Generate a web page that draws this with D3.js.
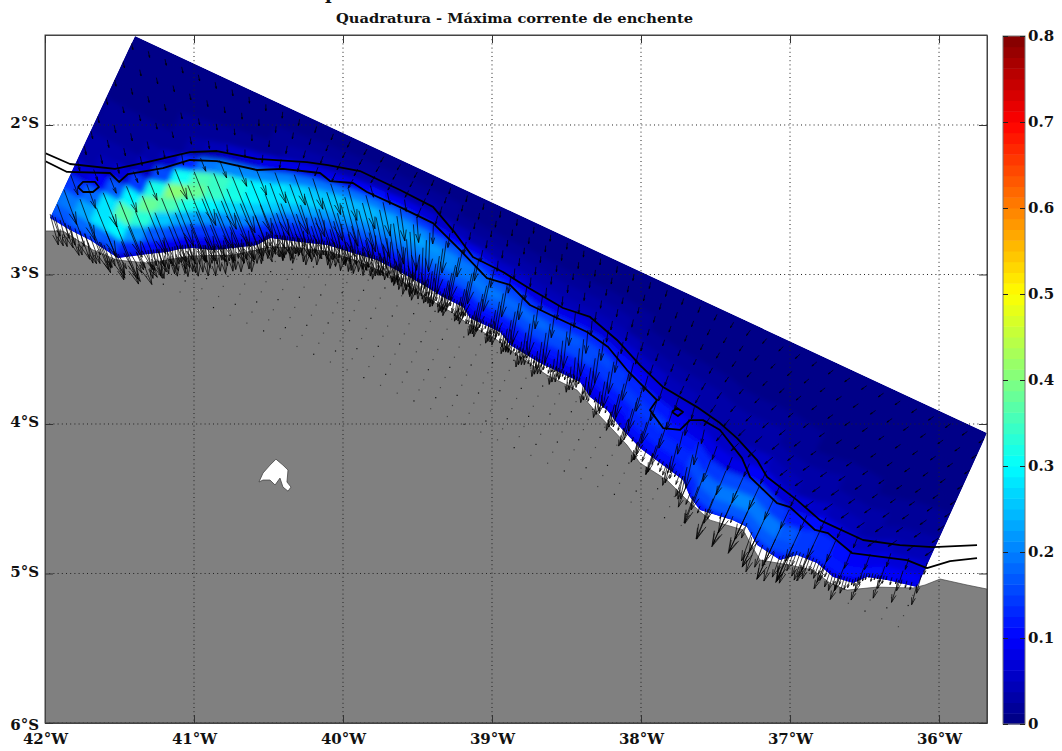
<!DOCTYPE html>
<html>
<head>
<meta charset="utf-8">
<script src="https://cdn.jsdelivr.net/npm/d3@7"></script>
<style>
  body { margin: 0; background: #fff; }
  text { font-family: "DejaVu Serif", serif; font-weight: bold; fill: #111; }
</style>
</head>
<body>
<div id="chart"></div>
<script>
// ticks
var lonTicks = [-42, -41, -40, -39, -38, -37, -36];
var latTicks = [-2, -3, -4, -5, -6];
var barTicks = [0, 0.1, 0.2, 0.3, 0.4, 0.5, 0.6, 0.7, 0.8];
var jetStops = ["#000080", "#0000ff", "#0080ff", "#00ffff", "#80ff80", "#ffff00", "#ff8000", "#ff0000", "#800000"];

// model grid: rotated box, offshore edge from NW corner to NE corner, cross direction to SW corner
var cornerNW = [-41.396, -1.405];
var cornerNE = [-35.678, -4.060];
var cornerSW = [-41.966, -2.635];

// wet edge of the grid, west to east (lon, lat)
var seaEdge = [[-41.966,-2.622],[-41.832,-2.702],[-41.698,-2.769],[-41.510,-2.890],[-41.309,-2.863],[-41.181,-2.850],[-41.094,-2.830],[-41.007,-2.823],[-40.872,-2.836],[-40.738,-2.823],[-40.577,-2.803],[-40.490,-2.756],[-40.389,-2.769],[-40.289,-2.783],[-40.107,-2.803],[-39.933,-2.856],[-39.772,-2.903],[-39.617,-2.983],[-39.483,-3.057],[-39.329,-3.151],[-39.195,-3.218],[-39.148,-3.291],[-38.946,-3.385],[-38.879,-3.472],[-38.678,-3.592],[-38.409,-3.719],[-38.342,-3.820],[-38.228,-3.907],[-38.141,-4.020],[-38.007,-4.161],[-37.872,-4.261],[-37.718,-4.375],[-37.671,-4.489],[-37.604,-4.576],[-37.383,-4.643],[-37.289,-4.689],[-37.221,-4.810],[-37.067,-4.910],[-36.953,-4.877],[-36.819,-4.930],[-36.711,-5.024],[-36.577,-5.064],[-36.483,-5.024],[-36.349,-5.044],[-36.148,-5.091]];
// short crowded arrows along that edge: length (px), degrees west of south, spacing (px) at each edge point
var barbLength = [32,32,34,34,30,30,32,32,30,30,26,24,26,26,26,24,20,24,18,16,14,14,14,12,10,10,10,14,8,24,12,24,12,12,8,32,34,32,28,18,18,10,8,8,6];
var barbAngle = [-15,-15,-20,-30,-10,-5,-5,-5,-5,0,0,0,5,5,5,5,5,10,10,10,10,10,10,10,15,15,15,15,15,20,20,20,20,20,20,20,20,20,20,20,15,15,15,15,15];
var barbGap = [6,6,6,6,2.6,2.6,2.6,2.6,2.6,2.6,2.6,2.6,2.6,2.6,2.6,2.6,2.6,2.6,3,3,3,3,3,3,3,8,8,8,10,10,4,12,12,12,14,9,7,3.5,3.5,3.5,3,3,3,5,5];
var barbCycle = [1, 0.62, 0.86, 0.5, 0.96, 0.7, 0.55, 0.9];

// land coast (lon, lat)
var landCoast = [[-42,-2.709],[-41.879,-2.709],[-41.678,-2.836],[-41.517,-2.903],[-41.315,-2.923],[-41.007,-2.876],[-40.738,-2.870],[-40.490,-2.816],[-40.289,-2.823],[-40.087,-2.850],[-39.886,-2.917],[-39.617,-3.037],[-39.436,-3.157],[-39.262,-3.258],[-39.168,-3.325],[-38.966,-3.438],[-38.832,-3.539],[-38.631,-3.673],[-38.430,-3.773],[-38.295,-3.927],[-38.188,-4.040],[-38.094,-4.141],[-38.007,-4.261],[-37.826,-4.375],[-37.691,-4.509],[-37.537,-4.643],[-37.315,-4.709],[-37.268,-4.796],[-37.201,-4.910],[-37.000,-4.944],[-36.846,-4.977],[-36.732,-5.064],[-36.617,-5.111],[-36.416,-5.091],[-36.174,-5.097],[-36.094,-5.077],[-35.993,-5.037],[-35.812,-5.077],[-35.678,-5.104]];
var island = [[-40.564,-4.388],[-40.537,-4.328],[-40.490,-4.275],[-40.450,-4.235],[-40.403,-4.275],[-40.369,-4.308],[-40.376,-4.388],[-40.349,-4.422],[-40.369,-4.449],[-40.403,-4.422],[-40.423,-4.362],[-40.456,-4.408],[-40.490,-4.375],[-40.537,-4.375]];

// the two black contours and their small closed loops
var contourUpper = [[-42,-2.187],[-41.832,-2.261],[-41.530,-2.294],[-41.315,-2.248],[-41.027,-2.181],[-40.846,-2.174],[-40.577,-2.227],[-40.242,-2.248],[-40.101,-2.268],[-39.886,-2.308],[-39.617,-2.435],[-39.396,-2.548],[-39.248,-2.722],[-39.128,-2.883],[-38.926,-2.983],[-38.765,-3.084],[-38.523,-3.224],[-38.342,-3.284],[-38.161,-3.438],[-38.007,-3.606],[-37.852,-3.753],[-37.624,-3.887],[-37.470,-3.994],[-37.356,-4.094],[-37.221,-4.241],[-37.154,-4.355],[-36.953,-4.509],[-36.799,-4.643],[-36.510,-4.776],[-36.262,-4.810],[-36.040,-4.823],[-35.745,-4.810]];
var contourLower = [[-42,-2.241],[-41.852,-2.314],[-41.564,-2.321],[-41.503,-2.381],[-41.443,-2.328],[-41.208,-2.288],[-41.027,-2.234],[-40.846,-2.241],[-40.577,-2.301],[-40.403,-2.294],[-40.154,-2.321],[-40.087,-2.375],[-39.933,-2.388],[-39.839,-2.448],[-39.617,-2.549],[-39.396,-2.656],[-39.215,-2.836],[-39.034,-3.024],[-38.879,-3.070],[-38.745,-3.204],[-38.564,-3.291],[-38.362,-3.385],[-38.221,-3.485],[-38.094,-3.639],[-37.893,-3.840],[-37.940,-3.907],[-37.852,-4.027],[-37.738,-4.040],[-37.671,-3.974],[-37.584,-3.974],[-37.470,-4.040],[-37.322,-4.228],[-37.268,-4.355],[-37.087,-4.529],[-37.000,-4.556],[-36.832,-4.709],[-36.745,-4.730],[-36.584,-4.863],[-36.215,-4.910],[-36.081,-4.964],[-35.926,-4.917],[-35.745,-4.897]];
var loopWest = [[-41.779,-2.415],[-41.745,-2.381],[-41.664,-2.381],[-41.638,-2.415],[-41.678,-2.448],[-41.745,-2.448],[-41.779,-2.415]];
var loopEast = [[-37.792,-3.920],[-37.758,-3.893],[-37.718,-3.920],[-37.752,-3.947],[-37.792,-3.920]];

// fraction of the way from the offshore edge to the wet edge for each speed column
var depthLevels = [0.04, 0.14, 0.24, 0.34, 0.44, 0.52, 0.60, 0.68, 0.76, 0.84, 0.92, 0.98, 1.06];
// cross positions of the dry grid points that show as specks on land
var landLevels = [0.44, 0.495, 0.55, 0.605, 0.66, 0.715, 0.77, 0.825, 0.88, 0.935, 0.99, 1.05];

// current speed in cm/s, one row per grid station west to east
var speedCm = [
  [1,1,1,1,1,2,3,4,9,16,20,14,8],
  [1,1,1,1,2,2,3,5,11,19,22,14,8],
  [1,1,1,1,2,2,4,7,16,26,24,14,8],
  [1,1,1,1,2,3,5,12,32,38,24,12,7],
  [1,1,1,1,2,3,9,34,42,34,20,10,6],
  [1,1,1,2,4,14,38,44,34,22,13,8,5],
  [1,1,1,2,6,30,42,38,28,20,12,7,5],
  [1,1,1,2,8,32,38,34,26,18,11,7,5],
  [1,1,1,2,10,32,34,31,25,17,11,7,5],
  [1,1,1,2,12,30,32,29,24,17,11,7,5],
  [1,1,2,3,14,28,30,28,23,16,10,7,5],
  [1,1,2,3,14,26,29,27,22,16,10,7,5],
  [1,1,2,3,14,25,28,26,21,15,10,7,5],
  [1,1,2,3,14,24,27,25,20,15,10,7,5],
  [1,1,2,4,14,24,26,24,20,15,10,7,5],
  [1,1,2,5,15,24,25,24,19,14,10,7,5],
  [1,1,2,5,15,23,25,23,19,14,10,7,5],
  [1,1,2,5,14,22,24,23,19,14,10,7,6],
  [1,1,2,4,11,20,23,23,19,14,10,7,6],
  [1,1,2,3,8,17,22,22,19,14,10,8,6],
  [1,1,1,3,6,14,20,22,19,14,10,8,6],
  [1,1,1,2,5,12,19,21,19,14,10,8,6],
  [1,1,1,2,5,10,17,20,19,14,10,8,6],
  [1,1,1,2,4,8,15,20,19,14,10,8,6],
  [1,1,1,2,4,7,14,19,19,14,10,8,6],
  [1,1,1,2,3,6,11,18,18,14,10,8,6],
  [1,1,1,2,3,6,10,18,18,14,10,8,6],
  [1,1,1,2,3,6,10,17,18,14,10,8,6],
  [1,1,1,2,3,6,10,16,17,14,10,8,6],
  [1,1,1,2,3,6,10,16,17,14,10,8,6],
  [1,1,1,2,3,5,9,15,16,14,10,8,6],
  [1,1,1,2,3,5,9,14,16,14,10,8,6],
  [1,1,1,1,3,5,8,12,15,14,10,8,6],
  [1,1,1,1,2,4,7,11,15,14,11,8,6],
  [1,1,1,1,2,4,6,10,15,15,12,9,7],
  [1,1,1,1,2,3,5,9,12,14,12,9,7],
  [1,1,1,1,2,3,5,7,10,13,12,9,7],
  [1,1,1,1,2,3,4,6,10,15,14,10,8],
  [1,1,1,1,2,3,4,6,10,17,17,12,8],
  [1,1,1,1,2,3,4,6,11,18,19,14,9],
  [1,1,1,1,2,3,4,6,12,20,20,14,9],
  [1,1,1,1,2,3,4,6,12,20,20,14,9],
  [1,1,1,1,2,2,3,5,10,19,19,14,9],
  [1,1,1,1,1,2,3,5,9,18,19,14,9],
  [1,1,1,1,1,2,3,4,7,15,17,13,9],
  [1,1,1,1,1,2,3,4,6,13,15,12,8],
  [1,1,1,1,1,2,2,3,5,10,13,11,8],
  [1,1,1,1,1,1,2,3,5,8,12,11,8],
  [1,1,1,1,1,1,2,3,4,7,11,10,8],
  [1,1,1,1,1,1,2,2,4,6,10,10,8],
  [1,1,1,1,1,1,2,2,3,5,9,10,8],
  [1,1,1,1,1,1,2,2,3,5,8,9,7]
];
// direction of the current per station, degrees west of south
var angleInner = [-20,-20,-22,-22,-22,-22,-22,-22,-22,-22,-20,-20,-18,-18,-15,-15,-12,-8,-4,2,8,12,12,12,10,10,8,8,6,5,8,10,14,16,18,18,14,12,20,22,24,25,25,25,25,25,24,22,20,18,18,15];
var angleOuter = [-12,-12,-12,-12,-12,-10,-8,-4,0,5,10,15,20,25,28,30,30,28,22,15,12,10,8,6,5,5,5,5,6,8,10,12,15,18,20,25,30,35,40,45,48,50,52,55,55,55,55,55,55,55,55,55];

var width = 1062, height = 751;
var left = 45, right = 987, top_ = 35, bottom = 723;

var x = d3.scaleLinear().domain([-42, -35.678]).range([left, right]);
var y = d3.scaleLinear().domain([-1.398, -6]).range([top_, bottom]);
var xy = function(d) { return [x(d[0]), y(d[1])]; };

var jet = d3.scaleLinear().domain(barTicks).range(jetStops);
var speedColor = d3.scaleQuantize().domain([0, 0.8]).range(d3.range(64).map(function(i) { return jet((i + 0.5) / 64 * 0.8); }));

var svg = d3.select("#chart").append("svg").attr("width", width).attr("height", height);

// clipped first line of the title, only the descender lands on the page
svg.append("text").attr("x", 325).attr("y", -1).attr("font-size", 18).text("p");
svg.append("text").attr("x", 336).attr("y", 23).attr("font-size", 13.5).attr("textLength", 357).attr("lengthAdjust", "spacingAndGlyphs").text("Quadratura - Máxima corrente de enchente");

var defs = svg.append("defs");
defs.append("clipPath").attr("id", "plotClip").append("rect")
  .attr("x", left).attr("y", top_).attr("width", right - left).attr("height", bottom - top_);

var nw = xy(cornerNW), ne = xy(cornerNE), sw = xy(cornerSW);
var seaPts = seaEdge.map(xy);
var seaPoly = [nw, ne].concat(seaPts.slice().reverse());

function boxPoint(u, v) {
  return [nw[0] + u * (ne[0] - nw[0]) + v * (sw[0] - nw[0]), nw[1] + u * (ne[1] - nw[1]) + v * (sw[1] - nw[1])];
}

// walk each station towards the coast until it leaves the wet area
var nRows = speedCm.length;
var stations = speedCm.map(function(row, i) {
  var u = Math.min(0.998, Math.max(0.002, i / (nRows - 1)));
  var v = 0.1;
  while (v < 1.06 && d3.polygonContains(seaPoly, boxPoint(u, v))) v += 0.005;
  return { i: i, u: i / (nRows - 1), reach: v, speeds: row };
});

// field cells
defs.append("clipPath").attr("id", "seaClip").append("polygon").attr("points", seaPoly.join(" "));
var blur = defs.append("filter").attr("id", "soft").attr("filterUnits", "userSpaceOnUse")
  .attr("x", 0).attr("y", 0).attr("width", width).attr("height", height);
blur.append("feGaussianBlur").attr("stdDeviation", 2.4);

var field = svg.append("g").attr("clip-path", "url(#seaClip)");
field.append("polygon").attr("points", seaPoly.join(" ")).attr("fill", speedColor(0.01));
var cellsG = field.append("g").attr("filter", "url(#soft)");

var rowsExt = [{ u: -0.03, reach: stations[0].reach, speeds: stations[0].speeds }]
  .concat(stations)
  .concat([{ u: 1.03, reach: stations[nRows - 1].reach, speeds: stations[nRows - 1].speeds }]);
var cells = [];
d3.range(rowsExt.length - 1).forEach(function(a) {
  d3.range(depthLevels.length - 1).forEach(function(b) {
    var r0 = rowsExt[a], r1 = rowsExt[a + 1];
    cells.push({
      pts: [boxPoint(r0.u, depthLevels[b] * r0.reach), boxPoint(r1.u, depthLevels[b] * r1.reach),
            boxPoint(r1.u, depthLevels[b + 1] * r1.reach), boxPoint(r0.u, depthLevels[b + 1] * r0.reach)],
      s: (r0.speeds[b] + r1.speeds[b] + r0.speeds[b + 1] + r1.speeds[b + 1]) / 400
    });
  });
});
cellsG.selectAll("polygon").data(cells).join("polygon")
  .attr("points", function(d) { return d.pts.join(" "); })
  .attr("fill", function(d) { return speedColor(d.s); })
  .attr("stroke", function(d) { return speedColor(d.s); })
  .attr("stroke-width", 0.6);

// land on top, island is a hole
var plot = svg.append("g").attr("clip-path", "url(#plotClip)");
var landPts = landCoast.map(xy).concat([[right, bottom], [left, bottom]]);
plot.append("polygon").attr("points", landPts.join(" ")).attr("fill", "#808080").attr("stroke", "#444").attr("stroke-width", 0.7);
plot.append("polygon").attr("points", island.map(xy).join(" ")).attr("fill", "#fff").attr("stroke", "#444").attr("stroke-width", 0.8);

// dotted graticule
plot.selectAll(".gx").data(lonTicks).join("line").attr("class", "gx")
  .attr("x1", function(d) { return x(d); }).attr("x2", function(d) { return x(d); })
  .attr("y1", top_).attr("y2", bottom);
plot.selectAll(".gy").data(latTicks).join("line").attr("class", "gy")
  .attr("y1", function(d) { return y(d); }).attr("y2", function(d) { return y(d); })
  .attr("x1", left).attr("x2", right);
plot.selectAll(".gx,.gy").attr("stroke", "#222").attr("stroke-width", 1).attr("stroke-dasharray", "1,3.2");

// specks for the dry grid points
var landPoly = landPts;
var specks = [];
stations.forEach(function(st) {
  landLevels.forEach(function(v, k) {
    var p = boxPoint(st.u, v);
    if (d3.polygonContains(landPoly, p)) specks.push({ p: p, dark: (st.i + k) % 3 === 0 });
  });
});
plot.selectAll(".speck").data(specks).join("rect").attr("class", "speck")
  .attr("x", function(d) { return d.p[0]; }).attr("y", function(d) { return d.p[1]; })
  .attr("width", 1.2).attr("height", 1.2)
  .attr("fill", function(d) { return d.dark ? "#111" : "#444"; });

// arrows
var arrowLen = d3.scaleLinear().domain([0, 0.05, 0.2, 0.4]).range([5, 12, 46, 70]);
function arrowPath(d) {
  var a = d.angle * Math.PI / 180;
  var dx = -Math.sin(a), dy = Math.cos(a);
  var tip = [d.p[0] + dx * d.len, d.p[1] + dy * d.len];
  var h = Math.min(d.len * 0.34, 16), w = h * 0.27;
  var b = [tip[0] - dx * h, tip[1] - dy * h];
  return "M" + d.p + "L" + tip +
    "M" + [b[0] - dy * w, b[1] + dx * w] + "L" + tip + "L" + [b[0] + dy * w, b[1] - dx * w];
}
var arrows = [];
stations.forEach(function(st) {
  depthLevels.forEach(function(d, j) {
    if (d > 1) return;
    var s = st.speeds[j] / 100;
    arrows.push({
      p: boxPoint(st.u, d * st.reach),
      len: arrowLen(s),
      angle: s < 0.05 ? angleOuter[st.i] : angleInner[st.i]
    });
  });
});
// crowded short arrows along the wet edge
seaPts.forEach(function(p, i) {
  if (i === seaPts.length - 1) return;
  var q = seaPts[i + 1];
  var dist = Math.hypot(q[0] - p[0], q[1] - p[1]);
  var n = Math.max(1, Math.round(dist / barbGap[i]));
  d3.range(n).forEach(function(k) {
    var t = k / n;
    arrows.push({
      p: [p[0] + t * (q[0] - p[0]), p[1] + t * (q[1] - p[1]) - 4],
      len: barbLength[i] * barbCycle[(i + k) % barbCycle.length],
      angle: barbAngle[i]
    });
  });
});
plot.append("g").selectAll("path").data(arrows).join("path")
  .attr("d", arrowPath).attr("fill", "none").attr("stroke", "#000").attr("stroke-width", 0.72);

// contours
var line = d3.line().x(function(d) { return x(d[0]); }).y(function(d) { return y(d[1]); });
plot.append("g").selectAll("path").data([contourUpper, contourLower, loopWest, loopEast]).join("path")
  .attr("d", line).attr("fill", "none").attr("stroke", "#000").attr("stroke-width", 1.8).attr("stroke-linejoin", "round");

// frame and axes
svg.append("rect").attr("x", left).attr("y", top_).attr("width", right - left).attr("height", bottom - top_)
  .attr("fill", "none").attr("stroke", "#444").attr("stroke-width", 1);

var xAxis = svg.append("g").attr("transform", "translate(0," + bottom + ")")
  .call(d3.axisBottom(x).tickValues(lonTicks).tickSizeOuter(0).tickSizeInner(-8).tickPadding(10)
    .tickFormat(function(d) { return Math.abs(d) + "°W"; }));
var yAxis = svg.append("g").attr("transform", "translate(" + left + ",0)")
  .call(d3.axisLeft(y).tickValues(latTicks).tickSizeOuter(0).tickSizeInner(-8).tickPadding(6)
    .tickFormat(function(d) { return Math.abs(d) + "°S"; }));
var yRight = svg.append("g").attr("transform", "translate(" + right + ",0)")
  .call(d3.axisRight(y).tickValues(latTicks).tickSizeOuter(0).tickSizeInner(-8).tickFormat(""));
var xTop = svg.append("g").attr("transform", "translate(0," + top_ + ")")
  .call(d3.axisTop(x).tickValues(lonTicks).tickSizeOuter(0).tickSizeInner(-8).tickFormat(""));
[xAxis, yAxis, yRight, xTop].forEach(function(a) {
  a.select(".domain").attr("stroke", "#444");
  a.selectAll(".tick line").attr("stroke", "#333");
  a.selectAll("text").attr("font-size", 15).attr("font-family", null);
});
yAxis.selectAll("text").attr("dy", "0.2em");
yAxis.selectAll(".tick").filter(function(d) { return d === -6; }).select("text").attr("dy", "0.45em");

// colour bar
var barY = d3.scaleLinear().domain([0, 0.8]).range([724, 36]);
var barX0 = 1003, barX1 = 1025;
var bandH = 0.8 / 64;
svg.append("g").selectAll("rect").data(d3.range(64)).join("rect")
  .attr("x", barX0).attr("width", barX1 - barX0)
  .attr("y", function(i) { return barY((i + 1) * bandH); })
  .attr("height", function(i) { return barY(i * bandH) - barY((i + 1) * bandH) + 0.5; })
  .attr("fill", function(i) { return jet((i + 0.5) * bandH); });
svg.append("rect").attr("x", barX0).attr("y", 36).attr("width", barX1 - barX0).attr("height", 688)
  .attr("fill", "none").attr("stroke", "#777");
var barR = svg.append("g").attr("transform", "translate(" + barX1 + ",0)")
  .call(d3.axisRight(barY).tickValues(barTicks).tickSizeOuter(0).tickSizeInner(-5).tickPadding(3)
    .tickFormat(function(d) { return d === 0 ? "0" : d.toFixed(1); }));
var barL = svg.append("g").attr("transform", "translate(" + barX0 + ",0)")
  .call(d3.axisLeft(barY).tickValues(barTicks).tickSizeOuter(0).tickSizeInner(-5).tickFormat(""));
[barR, barL].forEach(function(a) {
  a.select(".domain").remove();
  a.selectAll(".tick line").attr("stroke", "#222");
});
barR.selectAll("text").attr("font-size", 15).attr("font-family", null);
</script>
</body>
</html>
